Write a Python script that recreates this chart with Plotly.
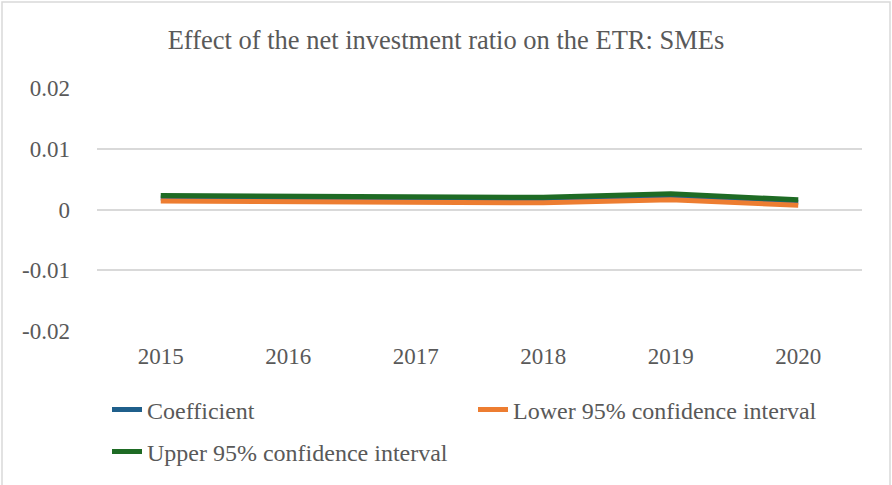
import plotly.graph_objects as go

years = ["2015", "2016", "2017", "2018", "2019", "2020"]
coefficient = [0.0019, 0.0018, 0.0017, 0.0016, 0.0021, 0.0012]
lower_ci = [0.0014, 0.0013, 0.0012, 0.0011, 0.0016, 0.0007]
upper_ci = [0.0023, 0.0022, 0.0021, 0.0020, 0.0026, 0.0016]
y_ticks = [0.02, 0.01, 0, -0.01, -0.02]
y_tick_labels = ["0.02", "0.01", "0", "-0.01", "-0.02"]

W, H = 892, 485
L, R, T, B = 97, 30, 88, 154
pw, ph = W - L - R, H - T - B

def px_x(p):
    return (p - L) / pw

def px_y(p):
    return (H - B - p) / ph

font = "Liberation Serif, Times New Roman, serif"
fig = go.Figure()
fig.add_trace(go.Scatter(x=years, y=coefficient, mode="lines", name="Coefficient",
                         line=dict(color="#1F5F8B", width=5), legend="legend"))
fig.add_trace(go.Scatter(x=years, y=lower_ci, mode="lines", name="Lower 95% confidence interval",
                         line=dict(color="#ED7D31", width=5), legend="legend"))
fig.add_trace(go.Scatter(x=years, y=upper_ci, mode="lines", name="Upper 95% confidence interval",
                         line=dict(color="#1E6B24", width=5), legend="legend2"))

fig.update_layout(
    width=W, height=H,
    margin=dict(l=L, r=R, t=T, b=B, autoexpand=False),
    paper_bgcolor="white", plot_bgcolor="white",
    font=dict(family=font, color="#595959", size=23),
    title=dict(text="Effect of the net investment ratio on the ETR: SMEs",
               x=0.5, xref="container", xanchor="center",
               y=1 - 40 / H, yref="container", yanchor="middle",
               font=dict(size=26.5, color="#595959")),
    xaxis=dict(type="category", range=[-0.5, 5.5], showgrid=False, zeroline=False, showline=False,
               ticks="", tickfont=dict(size=23), ticklabelstandoff=9),
    yaxis=dict(range=[-0.02, 0.02], tickvals=y_ticks, ticktext=y_tick_labels,
               showgrid=True, gridcolor="#D9D9D9", gridwidth=1.5, zeroline=False,
               showline=False, ticks="", tickfont=dict(size=23), ticklabelstandoff=26),
    legend=dict(orientation="h", x=107 / W, xref="container", xanchor="left",
                y=1 - 410 / H, yref="container", yanchor="middle",
                entrywidth=321, entrywidthmode="pixels", font=dict(size=24),
                bgcolor="rgba(0,0,0,0)"),
    legend2=dict(orientation="h", x=107 / W, xref="container", xanchor="left",
                 y=1 - 452 / H, yref="container", yanchor="middle",
                 font=dict(size=24), bgcolor="rgba(0,0,0,0)"),
    shapes=[dict(type="rect", xref="paper", yref="paper",
                 x0=px_x(2), x1=px_x(890), y0=px_y(495), y1=px_y(2),
                 line=dict(color="#D9D9D9", width=1.5), fillcolor="rgba(0,0,0,0)", layer="below")],
)

fig.write_html("out.html", config={"displayModeBar": False},
               post_script="document.body.style.margin='0';document.body.style.overflow='hidden';")
